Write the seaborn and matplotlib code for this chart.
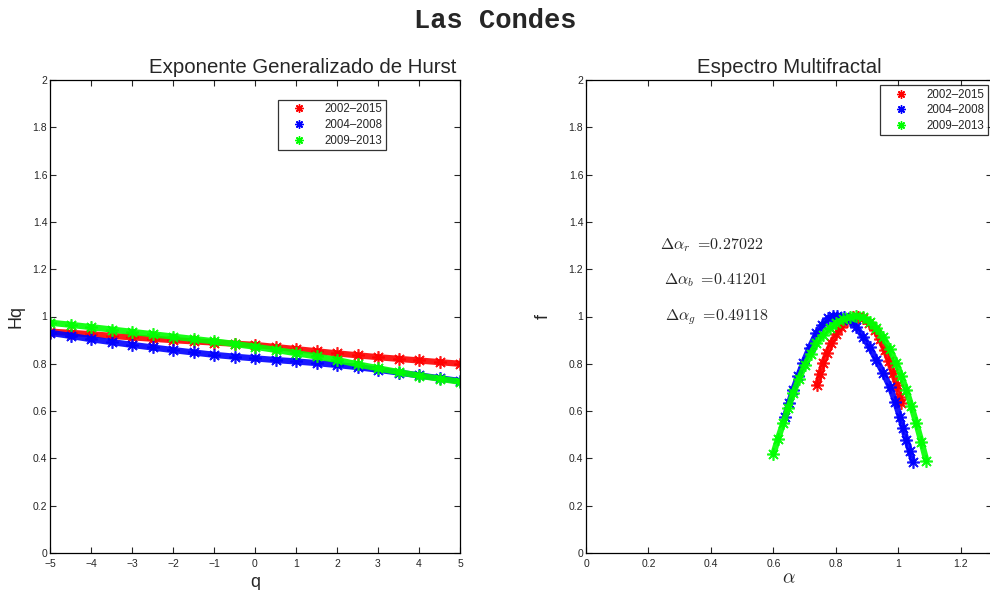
import numpy as np
import pandas as pd
import matplotlib
matplotlib.use("Agg")
import matplotlib.pyplot as plt
from matplotlib.lines import Line2D
import seaborn as sns

# ---------------- data ----------------
series = ["2002\u20132015", "2004\u20132008", "2009\u20132013"]
colors = ["#ff0000", "#0000ff", "#00ff00"]

q = [-5.0, -4.5, -4.0, -3.5, -3.0, -2.5, -2.0, -1.5, -1.0, -0.5, 0.0,
     0.5, 1.0, 1.5, 2.0, 2.5, 3.0, 3.5, 4.0, 4.5, 5.0]
hq_red = [0.936, 0.931, 0.925, 0.918, 0.912, 0.906, 0.900, 0.895, 0.890, 0.885, 0.880,
          0.871, 0.862, 0.853, 0.844, 0.836, 0.828, 0.821, 0.814, 0.807, 0.800]
hq_blue = [0.931, 0.918, 0.904, 0.892, 0.880, 0.869, 0.858, 0.848, 0.838, 0.830, 0.823,
           0.816, 0.810, 0.803, 0.795, 0.786, 0.775, 0.763, 0.751, 0.739, 0.727]
hq_green = [0.974, 0.965, 0.955, 0.945, 0.935, 0.925, 0.915, 0.905, 0.895, 0.884, 0.872,
            0.859, 0.845, 0.831, 0.816, 0.798, 0.781, 0.765, 0.750, 0.737, 0.724]

alpha_red = [0.740, 0.750, 0.759, 0.772, 0.786, 0.801, 0.818, 0.836, 0.855, 0.871,
             0.887, 0.906, 0.925, 0.941, 0.957, 0.970, 0.983, 0.995, 1.005, 1.010]
f_red = [0.710, 0.758, 0.802, 0.847, 0.887, 0.925, 0.957, 0.983, 1.000, 0.998,
         0.992, 0.971, 0.943, 0.903, 0.858, 0.811, 0.760, 0.710, 0.661, 0.633]

alpha_blue = [0.637, 0.650, 0.663, 0.679, 0.695, 0.716, 0.738, 0.756, 0.775, 0.790,
              0.804, 0.825, 0.845, 0.866, 0.887, 0.909, 0.930, 0.952, 0.973, 0.990,
              1.005, 1.016, 1.026, 1.037, 1.047]
f_blue = [0.576, 0.633, 0.689, 0.747, 0.802, 0.868, 0.929, 0.965, 0.992, 1.002,
          1.004, 0.998, 0.985, 0.955, 0.915, 0.869, 0.816, 0.761, 0.703, 0.640,
          0.576, 0.527, 0.478, 0.432, 0.386]

alpha_green = [0.600, 0.615, 0.631, 0.647, 0.663, 0.682, 0.701, 0.720, 0.738, 0.760,
               0.781, 0.802, 0.823, 0.845, 0.866, 0.888, 0.909, 0.930, 0.951, 0.973,
               0.994, 1.010, 1.026, 1.042, 1.058, 1.074, 1.090]
f_green = [0.419, 0.484, 0.548, 0.612, 0.675, 0.737, 0.795, 0.843, 0.887, 0.922,
           0.950, 0.972, 0.988, 0.997, 1.002, 0.996, 0.978, 0.950, 0.915, 0.862,
           0.802, 0.747, 0.689, 0.620, 0.548, 0.470, 0.390]

delta_labels = [r"$\Delta\alpha_r\ =\!0.27022$",
                r"$\Delta\alpha_b\ =\!0.41201$",
                r"$\Delta\alpha_g\ =\!0.49118$"]
delta_pos = [(0.237, 1.30), (0.250, 1.155), (0.253, 0.995)]

hq_all = [hq_red, hq_blue, hq_green]
alpha_all = [alpha_red, alpha_blue, alpha_green]
f_all = [f_red, f_blue, f_green]

# ---------------- style ----------------
sns.set_style("ticks")
plt.rcParams["font.family"] = ["Liberation Sans", "DejaVu Sans"]
plt.rcParams["mathtext.fontset"] = "cm"
plt.rcParams["xtick.direction"] = "in"
plt.rcParams["ytick.direction"] = "in"
plt.rcParams["xtick.top"] = True
plt.rcParams["ytick.right"] = True
plt.rcParams["axes.edgecolor"] = "black"
plt.rcParams["axes.linewidth"] = 0.9

AST = (8, 2, 0)   # MATLAB-like asterisk marker

fig = plt.figure(figsize=(9.9, 5.9), dpi=100)
W, H = 990, 590
ax1 = fig.add_axes([50 / W, (H - 553) / H, 410 / W, 473 / H])
ax2 = fig.add_axes([586 / W, (H - 553) / H, 406 / W, 473 / H])

yt = [0, 0.2, 0.4, 0.6, 0.8, 1, 1.2, 1.4, 1.6, 1.8, 2]
ytl = ["0", "0.2", "0.4", "0.6", "0.8", "1", "1.2", "1.4", "1.6", "1.8", "2"]

# Left panel
for name, col, hq in zip(series, colors, hq_all):
    df = pd.DataFrame({"q": q, "Hq": hq})
    sns.lineplot(data=df, x="q", y="Hq", ax=ax1, color=col, lw=4.5, alpha=0.9,
                 estimator=None, sort=False, marker=AST, markersize=9,
                 markeredgewidth=1.2, markeredgecolor=col)

ax1.set_xlim(-5, 5)
ax1.set_ylim(0, 2)
ax1.set_xticks(range(-5, 6))
ax1.set_xticklabels(["\u22125", "\u22124", "\u22123", "\u22122", "\u22121", "0",
                     "1", "2", "3", "4", "5"])
ax1.set_yticks(yt)
ax1.set_yticklabels(ytl)
ax1.tick_params(labelsize=7.5, length=4, width=0.8, pad=2)
ax1.tick_params(axis="x", pad=4)
ax1.set_xlabel("q", fontsize=13, labelpad=4)
ax1.set_ylabel("Hq", fontsize=13, labelpad=6)
ax1.set_title("Exponente Generalizado de Hurst", fontsize=14.7, x=0.617, pad=5)

handles = [Line2D([], [], ls="none", marker=AST, color=c, markersize=6,
                  markeredgewidth=1.0) for c in colors]
leg_kw = dict(fontsize=8.3, frameon=True, fancybox=False, edgecolor="black",
              handlelength=3.0, handletextpad=0.7, borderpad=0.3,
              labelspacing=0.32, borderaxespad=0, loc="upper left")
leg1 = ax1.legend(handles, series, bbox_to_anchor=(0.556, 0.958), **leg_kw)
leg1.get_frame().set_linewidth(0.9)

# Right panel
for name, col, a, f in zip(series, colors, alpha_all, f_all):
    df = pd.DataFrame({"alpha": a, "f": f})
    sns.lineplot(data=df, x="alpha", y="f", ax=ax2, color=col, lw=4.5, alpha=0.9,
                 estimator=None, sort=False, marker=AST, markersize=9,
                 markeredgewidth=1.2, markeredgecolor=col)

ax2.set_xlim(0, 1.3)
ax2.set_ylim(0, 2)
ax2.set_xticks([0, 0.2, 0.4, 0.6, 0.8, 1, 1.2])
ax2.set_xticklabels(["0", "0.2", "0.4", "0.6", "0.8", "1", "1.2"])
ax2.set_yticks(yt)
ax2.set_yticklabels(ytl)
ax2.tick_params(labelsize=7.5, length=4, width=0.8, pad=2)
ax2.tick_params(axis="x", pad=4)
ax2.set_xlabel(r"$\alpha$", fontsize=14, labelpad=1)
ax2.set_ylabel("f", fontsize=13, labelpad=12)
ax2.set_title("Espectro Multifractal", fontsize=14.7, pad=5)

for lab, (x, y) in zip(delta_labels, delta_pos):
    ax2.text(x, y, lab, fontsize=11.5, ha="left", va="center")

leg2 = ax2.legend(handles, series, bbox_to_anchor=(0.724, 0.989), **leg_kw)
leg2.get_frame().set_linewidth(0.9)

fig.text(0.5, 1 - 21 / H, "Las Condes", ha="center", va="center",
         fontsize=19.5, fontweight="bold", family=["Liberation Mono", "DejaVu Sans Mono"])

fig.savefig("out.png", dpi=100)
